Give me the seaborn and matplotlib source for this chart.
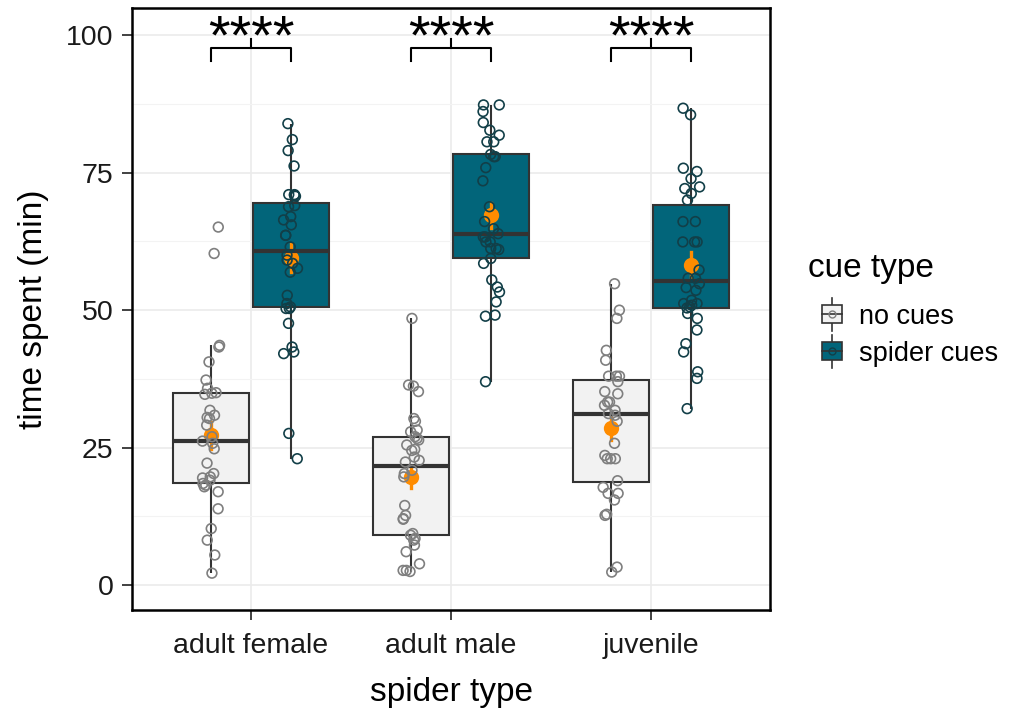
import numpy as np
import pandas as pd
import matplotlib
matplotlib.use('Agg')
import matplotlib.pyplot as plt
import seaborn as sns
from matplotlib.legend_handler import HandlerBase
from matplotlib.patches import Patch, Rectangle
from matplotlib.lines import Line2D
from matplotlib.ticker import MultipleLocator

spider_types = ['adult female', 'adult male', 'juvenile']
cue_types = ['no cues', 'spider cues']

# time spent (min)
af_none = [2.2, 5.5, 8.2, 10.3, 13.9, 17.0, 17.9, 18.2, 18.5, 19.1, 19.5, 19.7,
           20.3, 22.2, 24.8, 25.8, 26.2, 27.0, 29.1, 30.3, 30.5, 30.9, 31.8,
           34.7, 34.9, 35.0, 35.8, 37.3, 40.6, 43.3, 43.6, 60.3, 65.1]
af_cues = [23.0, 27.6, 42.1, 42.4, 43.3, 47.6, 50.3, 50.3, 50.6, 51.2, 52.7,
           56.9, 57.6, 58.5, 59.1, 60.0, 61.5, 63.6, 63.6, 65.5, 66.4, 67.0,
           68.8, 69.0, 70.7, 70.9, 71.0, 71.0, 76.2, 79.0, 81.0, 83.9]
am_none = [2.5, 2.7, 2.7, 3.9, 6.1, 7.3, 8.2, 8.5, 9.1, 9.4, 12.0, 12.1, 12.7,
           14.5, 19.7, 20.3, 20.9, 22.4, 22.7, 23.3, 24.5, 24.7, 25.5, 26.4,
           26.7, 27.0, 27.9, 28.2, 29.8, 30.3, 35.2, 36.2, 36.4, 48.5]
am_cues = [37.0, 48.9, 49.1, 51.5, 53.3, 54.2, 55.5, 58.5, 59.4, 61.0, 61.2,
           61.2, 62.4, 62.4, 63.3, 63.3, 63.9, 64.8, 66.1, 68.8, 73.5, 75.9,
           77.9, 77.9, 78.3, 80.6, 80.6, 81.8, 82.7, 84.1, 86.1, 87.3, 87.3]
juv_none = [2.4, 3.3, 12.7, 12.9, 15.5, 16.7, 16.7, 17.8, 19.0, 23.0, 23.0,
            23.6, 25.8, 29.8, 30.9, 31.2, 31.8, 32.7, 33.3, 33.3, 34.8, 35.2,
            37.0, 38.0, 38.0, 38.0, 40.9, 42.7, 48.5, 50.0, 54.8, 23.0]
juv_cues = [32.1, 37.6, 38.8, 42.4, 43.9, 46.4, 48.5, 49.4, 50.4, 50.6, 50.9,
            51.2, 51.2, 51.8, 53.6, 54.1, 54.8, 55.8, 55.8, 57.3, 62.4, 62.4,
            62.4, 66.1, 66.1, 70.0, 71.2, 72.1, 72.4, 73.9, 75.2, 75.8, 85.5, 86.7]
signif = ['****', '****', '****']

rows = []
for spider, none, cues in zip(spider_types, [af_none, am_none, juv_none],
                              [af_cues, am_cues, juv_cues]):
    rows += [(spider, 'no cues', v) for v in none]
    rows += [(spider, 'spider cues', v) for v in cues]
df = pd.DataFrame(rows, columns=['spider', 'cue', 'time'])

box_colors = {'no cues': '#F2F2F2', 'spider cues': '#02657A'}
pt_colors = {'no cues': '#7F7F7F', 'spider cues': '#123F48'}
orange = '#FF8C00'

plt.rcParams['font.family'] = ['Liberation Sans', 'DejaVu Sans']

fig = plt.figure(figsize=(10.11, 7.09), dpi=100)
ax = fig.add_axes([0.1306, 0.1396, 0.631, 0.849])

sns.boxplot(data=df, x='spider', y='time', hue='cue', order=spider_types,
            hue_order=cue_types, palette=box_colors, saturation=1, width=0.8,
            gap=0.05, linecolor='#333333', linewidth=1.5, showfliers=False,
            medianprops={'linewidth': 3}, capprops={'visible': False},
            legend=False, ax=ax)

n_before = len(ax.collections)
np.random.seed(3)
sns.stripplot(data=df, x='spider', y='time', hue='cue', order=spider_types,
              hue_order=cue_types, palette=pt_colors, dodge=True, jitter=0.09,
              size=7, legend=False, ax=ax)
for coll in ax.collections[n_before:]:
    fc = coll.get_facecolor()
    coll.set_facecolor('none')
    coll.set_edgecolor(fc)
    coll.set_linewidth(1.2)

sns.pointplot(data=df, x='spider', y='time', hue='cue', order=spider_types,
              hue_order=cue_types, palette={c: orange for c in cue_types},
              dodge=0.4, linestyle='none', errorbar='se', markersize=9,
              err_kws={'linewidth': 2.4}, legend=False, ax=ax)

ax.set_xlim(-0.595, 2.595)
ax.set_ylim(-4.5, 104.9)
ax.set_yticks([0, 25, 50, 75, 100])
ax.yaxis.set_minor_locator(MultipleLocator(12.5))
ax.grid(True, which='major', color='#EBEBEB', linewidth=1.2)
ax.grid(True, which='minor', axis='y', color='#F3F3F3', linewidth=0.8)
ax.set_axisbelow(True)
for s in ax.spines.values():
    s.set_visible(True)
    s.set_color('black')
    s.set_linewidth(1.8)
ax.tick_params(axis='both', which='major', length=7.5, width=1.3, color='#333333',
               labelsize=20.5, labelcolor='#1A1A1A', pad=6, bottom=True, left=True)
ax.tick_params(axis='x', which='major', pad=9)
ax.tick_params(axis='y', which='minor', length=0)
ax.set_xlabel('spider type', fontsize=24, labelpad=13)
ax.set_ylabel('time spent (min)', fontsize=24, labelpad=12)

# significance brackets
br_y, drop, rise = 97.6, 2.4, 1.6
for i, lab in enumerate(signif):
    l, r = i - 0.2, i + 0.2
    ax.plot([l, l, r, r], [br_y - drop, br_y, br_y, br_y - drop], color='black',
            lw=1.5, clip_on=False)
    ax.plot([i, i], [br_y, br_y + rise], color='black', lw=1.5)
    ax.text(i, 96.6, lab, ha='center', va='baseline', fontsize=40)


class BoxKey(HandlerBase):
    def __init__(self, point_color):
        super().__init__()
        self.point_color = point_color

    def create_artists(self, legend, orig_handle, xdescent, ydescent, width,
                       height, fontsize, trans):
        cx = -xdescent + width / 2
        cy = -ydescent + height / 2
        bw, bh = 14, 13
        wl = Line2D([cx, cx], [cy - 12, cy + 12], color='#333333', lw=1.2,
                    transform=trans)
        rect = Rectangle((cx - bw / 2, cy - bh / 2), bw, bh,
                         facecolor=orig_handle.get_facecolor(),
                         edgecolor='#333333', lw=1.2, transform=trans)
        med = Line2D([cx - bw / 2, cx + bw / 2], [cy, cy], color='#333333',
                     lw=1.2, transform=trans)
        pt = Line2D([cx], [cy], marker='o', markersize=5, markerfacecolor='none',
                    markeredgecolor=self.point_color, transform=trans)
        return [wl, rect, med, pt]


fig.text(0.799, 0.622, 'cue type', fontsize=24, ha='left', va='center')
handles = [Patch(facecolor=box_colors[c]) for c in cue_types]
fig.legend(handles, cue_types, loc='center left',
           bbox_to_anchor=(0.787, 0.527), frameon=False, fontsize=19.5,
           handlelength=0.9, handletextpad=0.53, labelspacing=0.4,
           handler_map={h: BoxKey(pt_colors[c]) for h, c in zip(handles, cue_types)})

fig.savefig('out.png', dpi=100)
